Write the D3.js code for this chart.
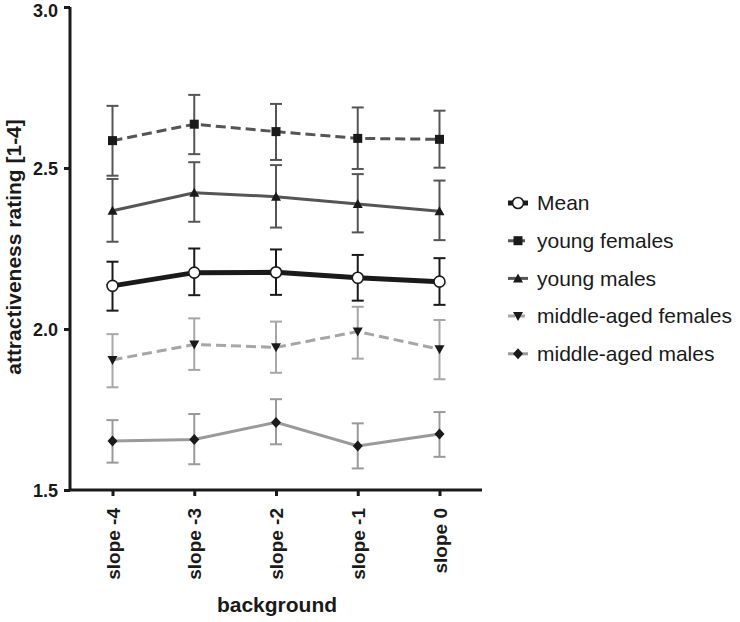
<!DOCTYPE html>
<html>
<head>
<meta charset="utf-8">
<script src="https://cdn.jsdelivr.net/npm/d3@7"></script>
<style>
  body { margin: 0; background: #fff; }
  text { font-family: Arial, "Liberation Sans", sans-serif; }
</style>
</head>
<body>
<div id="chart"></div>
<script>
// categories on x axis
const categories = ["slope -4", "slope -3", "slope -2", "slope -1", "slope 0"];
const yTicks = [1.5, 2.0, 2.5, 3.0];

// series means and error bar ends
const meanVals = [2.134, 2.175, 2.176, 2.159, 2.147];
const meanLo = [2.057, 2.105, 2.106, 2.088, 2.075];
const meanHi = [2.209, 2.25, 2.247, 2.23, 2.22];

const yfVals = [2.585, 2.636, 2.613, 2.592, 2.589];
const yfLo = [2.476, 2.543, 2.525, 2.497, 2.501];
const yfHi = [2.693, 2.727, 2.699, 2.688, 2.678];

const ymVals = [2.367, 2.423, 2.411, 2.388, 2.366];
const ymLo = [2.271, 2.333, 2.315, 2.30, 2.276];
const ymHi = [2.466, 2.518, 2.509, 2.481, 2.461];

const mfVals = [1.904, 1.952, 1.943, 1.992, 1.937];
const mfLo = [1.819, 1.873, 1.864, 1.908, 1.844];
const mfHi = [1.984, 2.033, 2.023, 2.069, 2.028];

const mmVals = [1.652, 1.657, 1.710, 1.637, 1.674];
const mmLo = [1.585, 1.580, 1.642, 1.567, 1.603];
const mmHi = [1.717, 1.736, 1.782, 1.707, 1.742];

const series = [
  { name: "Mean", vals: meanVals, lo: meanLo, hi: meanHi, color: "#1a1a1a", errColor: "#1a1a1a", width: 5, dash: null, symbol: "circle" },
  { name: "young females", vals: yfVals, lo: yfLo, hi: yfHi, color: "#555", errColor: "#555", width: 3, dash: "10,5", symbol: "square" },
  { name: "young males", vals: ymVals, lo: ymLo, hi: ymHi, color: "#555", errColor: "#555", width: 3, dash: null, symbol: "up" },
  { name: "middle-aged females", vals: mfVals, lo: mfLo, hi: mfHi, color: "#a6a6a6", errColor: "#a6a6a6", width: 3, dash: "10,5", symbol: "down" },
  { name: "middle-aged males", vals: mmVals, lo: mmLo, hi: mmHi, color: "#9a9a9a", errColor: "#9a9a9a", width: 3, dash: null, symbol: "diamond" }
];

const W = 740, H = 622;
const svg = d3.select("#chart").append("svg").attr("width", W).attr("height", H);

const x = d3.scalePoint().domain(categories).range([70, 482]).padding(0.52);
const y = d3.scaleLinear().domain([1.5, 3.0]).range([490, 7]);

// draw order: bottom series first, mean last
const drawOrder = [4, 3, 2, 1, 0].map(i => series[i]);

function drawMarker(g, s, cx, cy) {
  if (s.symbol === "circle") {
    g.append("circle").attr("cx", cx).attr("cy", cy).attr("r", 5.5)
      .attr("fill", "#fff").attr("stroke", "#1a1a1a").attr("stroke-width", 1.6);
  } else if (s.symbol === "square") {
    g.append("rect").attr("x", cx - 4.5).attr("y", cy - 4.5).attr("width", 9).attr("height", 9)
      .attr("fill", "#1a1a1a");
  } else if (s.symbol === "up") {
    g.append("path").attr("d", `M${cx},${cy - 5}L${cx + 5},${cy + 4}L${cx - 5},${cy + 4}Z`).attr("fill", "#1a1a1a");
  } else if (s.symbol === "down") {
    g.append("path").attr("d", `M${cx},${cy + 5}L${cx + 5},${cy - 4}L${cx - 5},${cy - 4}Z`).attr("fill", "#1a1a1a");
  } else if (s.symbol === "diamond") {
    g.append("path").attr("d", `M${cx},${cy - 5.5}L${cx + 5},${cy}L${cx},${cy + 5.5}L${cx - 5},${cy}Z`).attr("fill", "#1a1a1a");
  }
}

const line = d3.line().x((d, i) => x(categories[i])).y(d => y(d));

drawOrder.forEach(s => {
  const g = svg.append("g");
  // error bars
  categories.forEach((c, i) => {
    const cx = x(c);
    g.append("line").attr("x1", cx).attr("x2", cx).attr("y1", y(s.lo[i])).attr("y2", y(s.hi[i]))
      .attr("stroke", s.errColor).attr("stroke-width", 2);
    [s.lo[i], s.hi[i]].forEach(v => {
      g.append("line").attr("x1", cx - 6).attr("x2", cx + 6).attr("y1", y(v)).attr("y2", y(v))
        .attr("stroke", s.errColor).attr("stroke-width", 2);
    });
  });
  g.append("path").datum(s.vals).attr("d", line).attr("fill", "none")
    .attr("stroke", s.color).attr("stroke-width", s.width)
    .attr("stroke-dasharray", s.dash);
  s.vals.forEach((v, i) => drawMarker(g, s, x(categories[i]), y(v)));
});

// y axis
const yAxis = svg.append("g").attr("transform", "translate(70,0)")
  .call(d3.axisLeft(y).tickValues(yTicks).tickFormat(d3.format(".1f")).tickSize(6).tickPadding(6));
yAxis.select(".domain").attr("stroke", "#1a1a1a").attr("stroke-width", 3).attr("d", `M0,${y(3.0)}V${y(1.5)}`);
yAxis.selectAll(".tick line").attr("stroke", "#1a1a1a").attr("stroke-width", 3);
yAxis.selectAll(".tick text").attr("font-size", 18).attr("font-weight", "bold").attr("fill", "#1a1a1a")
  .attr("font-family", "Arial, 'Liberation Sans', sans-serif")
  .attr("dy", d => d === 3.0 ? "0.55em" : "0.38em");

// x axis
const xAxis = svg.append("g").attr("transform", "translate(0,490)")
  .call(d3.axisBottom(x).tickSize(6).tickSizeOuter(0));
xAxis.select(".domain").attr("stroke", "#1a1a1a").attr("stroke-width", 3).attr("d", "M70,0H482");
xAxis.selectAll(".tick line").attr("stroke", "#1a1a1a").attr("stroke-width", 3);
xAxis.selectAll(".tick text")
  .attr("font-size", 19).attr("font-weight", "bold").attr("fill", "#1a1a1a")
  .attr("font-family", "Arial, 'Liberation Sans', sans-serif")
  .attr("text-anchor", "end").attr("transform", "rotate(-90)")
  .attr("x", -18).attr("y", 0).attr("dy", "0.35em");

// axis titles
svg.append("text").attr("transform", "translate(21,247) rotate(-90)")
  .attr("text-anchor", "middle").attr("font-size", 21).attr("font-weight", "bold").attr("fill", "#1a1a1a")
  .text("attractiveness rating [1-4]");
svg.append("text").attr("x", 277).attr("y", 612)
  .attr("text-anchor", "middle").attr("font-size", 21).attr("font-weight", "bold").attr("fill", "#1a1a1a")
  .text("background");

// legend
const legend = svg.append("g").attr("transform", "translate(508,203)");
series.forEach((s, i) => {
  const g = legend.append("g").attr("transform", `translate(0,${i * 37.7})`);
  g.append("line").attr("x1", 0).attr("x2", 20).attr("y1", 0).attr("y2", 0)
    .attr("stroke", s.color).attr("stroke-width", s.width)
    .attr("stroke-dasharray", s.dash ? "7,3" : null);
  drawMarker(g, s, 10, 0);
  g.append("text").attr("x", 29).attr("y", 0).attr("dy", "0.35em")
    .attr("font-size", 21).attr("fill", "#1a1a1a").text(s.name);
});
</script>
</body>
</html>
